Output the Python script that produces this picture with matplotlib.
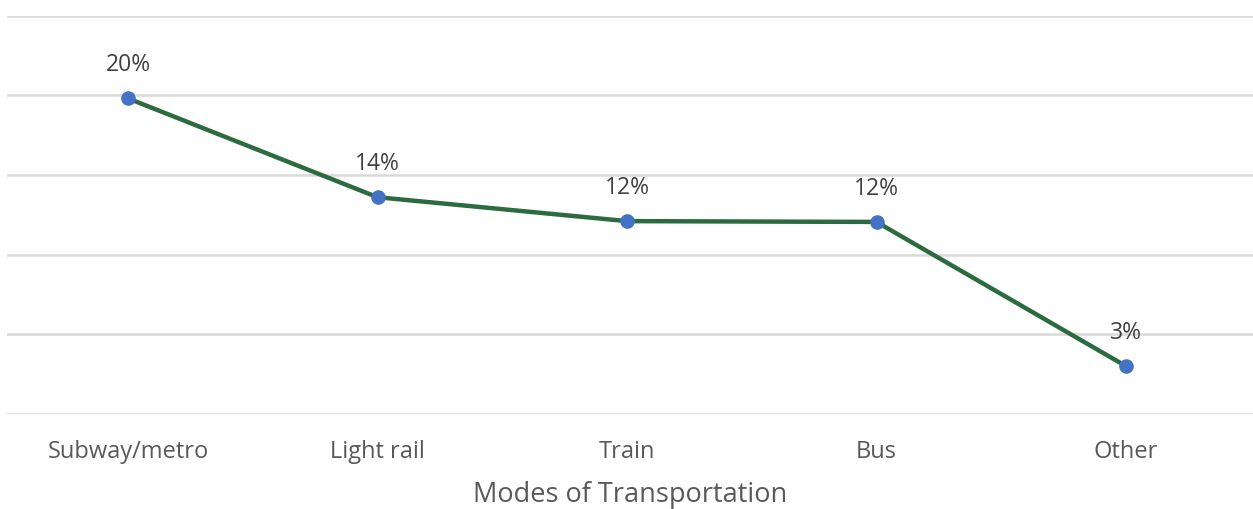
import matplotlib.pyplot as plt

plt.rcParams['font.family'] = ['Open Sans', 'DejaVu Sans']

modes = ['Subway/metro', 'Light rail', 'Train', 'Bus', 'Other']
shares = [19.8, 13.6, 12.1, 12.05, 3.0]
labels = ['20%', '14%', '12%', '12%', '3%']

W, H = 1253, 509
fig = plt.figure(figsize=(W / 100, H / 100), dpi=100)
ax = fig.add_axes([7 / W, (H - 414) / H, (1253 - 7) / W, (414 - 15.5) / H])

x = range(len(modes))
ax.plot(x, shares, color='#2c6a3f', linewidth=3.2, marker='o', markersize=9.5,
        markerfacecolor='#4472c4', markeredgecolor='#4472c4', zorder=3)

for i, (v, lab) in enumerate(zip(shares, labels)):
    ax.annotate(lab, (i, v), xytext=(0, 24), textcoords='offset points',
                ha='center', va='center', fontsize=16.5, color='#404040')

ax.set_xlim(-0.485, 4.509)
ax.set_ylim(0, 25)
ax.set_yticks([0, 5, 10, 15, 20, 25])
ax.set_yticklabels([])
ax.tick_params(axis='y', length=0)
ax.grid(axis='y', color='#d9d9d9', linewidth=1.8)
ax.set_axisbelow(True)

ax.set_xticks(list(x))
ax.set_xticklabels(modes, fontsize=17, color='#595959')
ax.tick_params(axis='x', length=0, pad=19)
ax.set_xlabel('Modes of Transportation', fontsize=19.5, color='#595959', labelpad=12)

for s in ax.spines.values():
    s.set_visible(False)

fig.savefig('out.png', dpi=100)
